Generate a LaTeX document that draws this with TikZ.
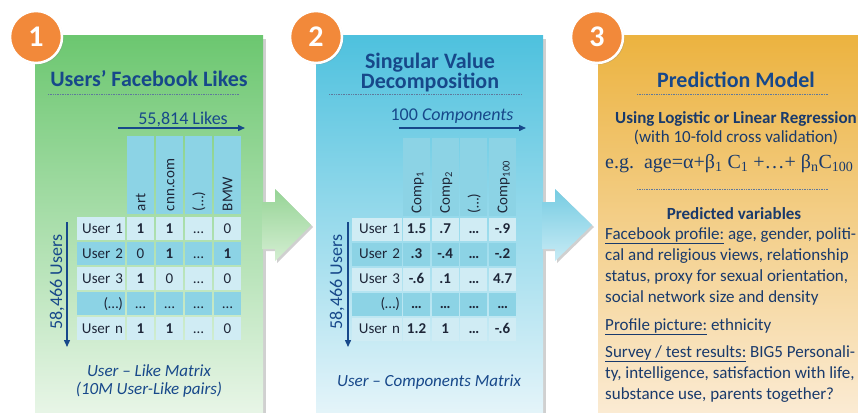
\documentclass[tikz,border=0pt]{standalone}
\usepackage{fontspec}
\setmainfont{Carlito}
\newfontfamily\formfont{Liberation Serif}
\usetikzlibrary{arrows.meta,shadows}

\definecolor{titleblue}{RGB}{23,72,138}
\definecolor{textblue}{RGB}{25,58,108}
\definecolor{tabtext}{RGB}{30,38,56}
\definecolor{badge}{RGB}{242,137,58}
\definecolor{greentop}{RGB}{108,199,112}
\definecolor{greenbot}{RGB}{234,246,233}
\definecolor{bluetop}{RGB}{78,193,222}
\definecolor{bluebot}{RGB}{231,245,250}
\definecolor{orangetop}{RGB}{236,179,64}
\definecolor{orangebot}{RGB}{251,236,214}
\definecolor{garrowtop}{RGB}{150,212,150}
\definecolor{garrowbot}{RGB}{212,238,210}
\definecolor{barrowtop}{RGB}{118,204,226}
\definecolor{barrowbot}{RGB}{200,235,245}
\definecolor{celldark}{RGB}{140,211,229}
\definecolor{celllight}{RGB}{208,236,244}
\definecolor{shadowgrey}{RGB}{208,208,208}
\definecolor{dotblue}{RGB}{95,120,155}

\begin{document}
\begin{tikzpicture}[x=1pt,y=-1pt,
    title/.style={anchor=base, text=titleblue, font=\fontsize{22}{24}\selectfont\bfseries},
    sub/.style={anchor=base, text=titleblue, font=\fontsize{18}{20}\selectfont},
    caption/.style={anchor=base, text=titleblue, font=\fontsize{17}{19}\selectfont\itshape},
    rule/.style={densely dotted, line width=0.7pt, draw=dotblue},
    dimarrow/.style={draw=titleblue, line width=1.4pt, -{Triangle[length=7pt,width=6pt]}},
    badgecirc/.style={circle, fill=badge, draw=white, line width=2.5pt, minimum size=52pt,
        inner sep=0pt, text=white, font=\fontsize{30}{30}\selectfont\bfseries,
        drop shadow={shadow xshift=1.5pt, shadow yshift=-1.5pt, opacity=.3}},
    cell/.style={minimum width=27pt, minimum height=23pt, inner sep=0pt, text=tabtext,
        font=\fontsize{15}{16}\selectfont, text height=9.5pt, text depth=0pt},
    labcell/.style={cell, inner xsep=2pt, align=right, text width=#1},
    hdcell/.style={cell, fill=celldark, minimum width=78pt, minimum height=27pt,
        align=left, text width=72pt, rotate=90}]

\useasboundingbox (0,0) rectangle (858,412);
\clip (0,0) rectangle (858,412);

% panels
\fill[shadowgrey] (263,39) rectangle (266,420);
\fill[shadowgrey] (543,39) rectangle (546,420);
\shade[top color=greentop, bottom color=greenbot] (35,36) rectangle (263,420);
\shade[top color=bluetop, bottom color=bluebot] (316,36) rectangle (543,420);
\shade[top color=orangetop, bottom color=orangebot] (598,36) rectangle (870,420);

% block arrows between panels
\fill[shadowgrey] (264,204) -- (277,204) -- (277,191) -- (313,227) -- (277,263) -- (277,251) -- (264,251) -- cycle;
\shade[top color=garrowtop, bottom color=garrowbot] (262,202) -- (275,202) -- (275,189) -- (311,225) -- (275,261) -- (275,249) -- (262,249) -- cycle;
\fill[shadowgrey] (544,204) -- (557,204) -- (557,191) -- (594,227) -- (557,263) -- (557,251) -- (544,251) -- cycle;
\shade[top color=barrowtop, bottom color=barrowbot] (542,202) -- (555,202) -- (555,189) -- (592,225) -- (555,261) -- (555,249) -- (542,249) -- cycle;

% numbered badges
\node[badgecirc] (b1) at (36,37) {1};
\node[badgecirc] (b2) at (316,37) {2};
\node[badgecirc] (b3) at (597,37) {3};

% panel 1: likes
\node[title] (t1) at (149,86) {Users’ Facebook Likes};
\draw[rule] (48,94) -- (240,94);
\node[sub] (likes) at (183,124) {55,814 Likes};
\coordinate (la) at (118,128);
\coordinate (lb) at (245,128);
\draw[dimarrow] (la) -- (lb);

\foreach \h [count=\k from 0] in {art,cnn.com,(\dots),BMW}
    \node[hdcell] (h1-\k) at ({140.5+\k*29},175) {\h};
\foreach \r/\cf/\lab/\vals in {
    1/celllight/User 1/{\textbf{1},\textbf{1},\dots,0},
    2/celldark/User 2/{0,\textbf{1},\dots,\textbf{1}},
    3/celllight/User 3/{\textbf{1},0,\dots,0},
    4/celldark/(\dots)/{\dots,\dots,\dots,\dots},
    5/celllight/User n/{\textbf{1},\textbf{1},\dots,0}}
{
    \node[labcell=44pt, fill=\cf] (lu-\r) at (101,{228.5+(\r-1)*25}) {\lab};
    \foreach \v [count=\k from 0] in \vals
        \node[cell, fill=\cf] (lv-\r-\k) at ({140.5+\k*29},{228.5+(\r-1)*25}) {\v};
}

\coordinate (ua) at (67,222);
\coordinate (ub) at (67,347);
\draw[dimarrow] (ua) -- (ub);
\node[sub, rotate=90] (users1) at (62,282) {58,466 Users};
\node[caption] (c1a) at (149,376) {User -- Like Matrix};
\node[caption] (c1b) at (149,394) {(10M User-Like pairs)};

% panel 2: svd
\node[anchor=north, align=center, inner sep=0pt, text=titleblue,
    font=\fontsize{22}{19}\selectfont\bfseries] (t2) at (430,52.5) {Singular Value\\Decomposition};
\draw[rule] (329,94) -- (522,94);
\node[sub] (comps) at (452,120) {100 \textit{Components}};
\coordinate (ca) at (399,128);
\coordinate (cb) at (526,128);
\draw[dimarrow] (ca) -- (cb);

\foreach \h [count=\k from 0] in {Comp\textsubscript{1},Comp\textsubscript{2},(\dots),Comp\textsubscript{100}}
    \node[hdcell] (h2-\k) at ({416.5+\k*28.7},177) {\h};
\foreach \r/\cf/\lab/\vals in {
    1/celllight/User 1/{1.5,.7,\dots,-.9},
    2/celldark/User 2/{.3,-.4,\dots,-.2},
    3/celllight/User 3/{-.6,.1,\dots,4.7},
    4/celldark/(\dots)/{\dots,\dots,\dots,\dots},
    5/celllight/User n/{1.2,1,\dots,-.6}}
{
    \node[labcell=46pt, fill=\cf] (cu-\r) at (377,{229+(\r-1)*25}) {\lab};
    \foreach \v [count=\k from 0] in \vals
        \node[cell, fill=\cf, font=\fontsize{15}{16}\selectfont\bfseries] (cv-\r-\k) at ({416.5+\k*28.7},{229+(\r-1)*25}) {\v};
}

\coordinate (va) at (348,222);
\coordinate (vb) at (348,347);
\draw[dimarrow] (va) -- (vb);
\node[sub, rotate=90] (users2) at (342,282) {58,466 Users};
\node[caption] (c2) at (429,386) {User -- Components Matrix};

% panel 3: prediction
\node[title] (t3) at (736,87) {Prediction Model};
\draw[rule] (637,94) -- (828,94);
\node[anchor=base, text=textblue, font=\fontsize{17}{19}\selectfont\bfseries] (meth) at (736,123) {Using Logistic or Linear Regression};
\node[anchor=base, text=textblue, font=\fontsize{17}{19}\selectfont] (cv) at (736,142) {(with 10-fold cross validation)};
\node[anchor=base west, inner sep=0pt, text=textblue, font=\formfont\fontsize{20}{22}\selectfont] (formula) at (605,168)
    {e.g.\ \ age=α+β\textsubscript{1} C\textsubscript{1} +…+ β\textsubscript{n}C\textsubscript{100}};
\draw[rule] (637,189) -- (828,189);
\node[anchor=base, text=textblue, font=\fontsize{17}{19}\selectfont\bfseries] (pv) at (734,219) {Predicted variables};
\node[anchor=north west, inner sep=0pt, align=left, text=textblue, font=\fontsize{17}{21}\selectfont] (vars) at (605,227.5)
    {\underline{Facebook profile:} age, gender, politi-\\
     cal and religious views, relationship\\
     status, proxy for sexual orientation,\\
     social network size and density\\[7pt]
     \underline{Profile picture:} ethnicity\\[6pt]
     \underline{Survey / test results:} BIG5 Personali-\\
     ty, intelligence, satisfaction with life,\\
     substance use, parents together?};
\end{tikzpicture}
\end{document}
